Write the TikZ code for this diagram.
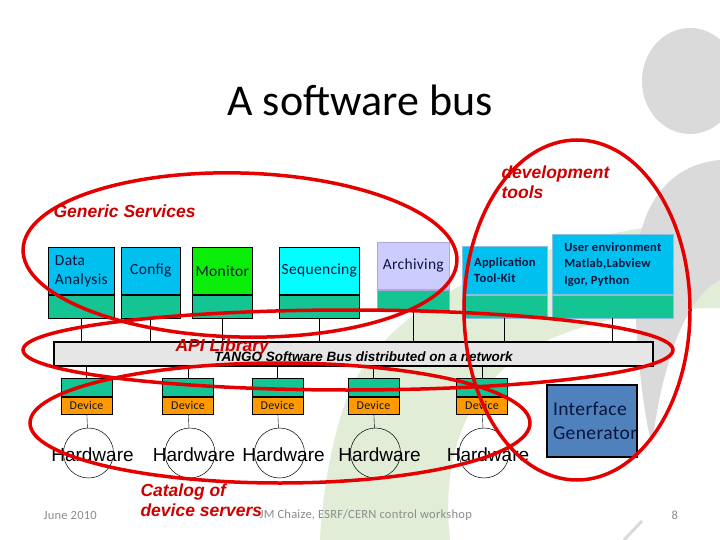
\documentclass[tikz,border=0pt]{standalone}
\usepackage{fontspec}
\setmainfont{Carlito}
\newfontfamily\boxfont[LetterSpace=2]{Carlito}
\newfontfamily\arialfont{Liberation Sans}
\usetikzlibrary{positioning}
\definecolor{skyb}{RGB}{0,192,240}
\definecolor{skyline}{RGB}{140,190,225}
\definecolor{teal2}{RGB}{20,196,146}
\definecolor{mongreen}{RGB}{10,238,10}
\definecolor{seqcyan}{RGB}{0,255,255}
\definecolor{lavender2}{RGB}{204,204,255}
\definecolor{lavline}{RGB}{170,170,220}
\definecolor{devorange}{RGB}{255,153,0}
\definecolor{busgray}{RGB}{230,230,230}
\definecolor{igblue}{RGB}{79,129,189}
\definecolor{penred}{RGB}{228,0,0}
\definecolor{notered}{RGB}{204,0,0}
\definecolor{boxtext}{RGB}{10,20,60}
\definecolor{bggray}{RGB}{218,218,218}
\definecolor{bggreen}{RGB}{226,237,216}
\definecolor{footgray}{RGB}{140,140,140}
\tikzset{
  svc/.style={draw=#1,line width=.7pt,inner sep=0pt,anchor=north west,text=boxtext,align=left},
  svcfont/.style={font=\boxfont\fontsize{15.5}{19}\selectfont},
  svcbold/.style={font=\boxfont\bfseries\fontsize{12.5}{16.5}\selectfont},
  dev/.style={draw,line width=.6pt,fill=teal2,minimum width=51,minimum height=18,inner sep=0pt,anchor=north},
  devlbl/.style={dev,fill=devorange,minimum height=17,text=boxtext,font=\boxfont\fontsize{12}{13}\selectfont},
  hw/.style={circle,draw,line width=.5pt,minimum size=50,inner sep=0pt},
  hwtext/.style={xshift=4pt,yshift=-2pt,font=\arialfont\fontsize{19}{22}\selectfont},
  note/.style={text=notered,anchor=west,align=left,font=\arialfont\bfseries\itshape\fontsize{17.5}{20}\selectfont},
  pen/.style={draw=penred,line width=3.5pt},
  foot/.style={text=footgray,anchor=west,font=\boxfont\fontsize{12.5}{14}\selectfont},
}
\begin{document}
\begin{tikzpicture}[x=1pt,y=-1pt]
  \useasboundingbox[fill=white](0,0)rectangle(720,540);
  % slide background
  \fill[bggreen](720,218).. controls (560,232) and (400,285) ..(350,390)
     .. controls (330,440) and (322,500) ..(320,540)--(450,540)
     .. controls (440,450) and (470,370) ..(560,335)
     .. controls (620,312) and (680,308) ..(720,308)--cycle;
  \fill[bggray](690,81)ellipse[x radius=48,y radius=53];
  \fill[bggray](720,160).. controls (660,165) and (630,220) ..(635,300)
     .. controls (638,370) and (645,420) ..(652,445)
     .. controls (660,380) and (680,300) ..(720,280)--cycle;
  \draw[bggray,line width=3pt](642,521)--(624,540);

  \node[font=\fontsize{44}{50}\selectfont] (title) at (360,100) {A software bus};

  \node[draw,line width=1.5pt,fill=busgray,minimum width=599,minimum height=24,inner sep=0pt,
        label={[xshift=10pt,yshift=-3pt,font=\arialfont\bfseries\itshape\fontsize{13.5}{15}\selectfont]center:TANGO Software Bus distributed on a network}]
        (bus) at (353.5,354) {};

  \foreach \n/\x/\y/\w/\h/\hb/\c/\d/\f/\t in {
      da/48/247/66/47/23/skyb/black/svcfont/{Data\\Analysis},
      cfg/121/247/59/47/23/skyb/black/svcfont/Config,
      mon/192/247/60/47/23/mongreen/black/svcfont/Monitor,
      seq/279/247/80/47/23/seqcyan/black/svcfont/Sequencing,
      arc/377/242/72/47/21/lavender2/lavline/svcfont/Archiving,
      atk/462/246/85/48/23/skyb/skyline/svcbold/{Application\\Tool-Kit},
      usr/552/234/121/60/23/skyb/skyline/svcbold/{User environment\\Matlab,Labview\\Igor, Python}}{
    \node[svc=\d,\f,fill=\c,minimum width=\w,minimum height=\h] (\n) at (\x,\y) {\t};
    \node[svc=\d,fill=teal2,minimum width=\w,minimum height=\hb,anchor=north] (\n-b) at (\n.south) {};
    \draw[line width=1pt] (\n-b.south) -- (\n-b.south |- bus.north);
  }

  \foreach \i/\x in {1/86.5,2/188,3/277.5,4/373.5,5/482}{
    \node[dev] (d\i) at (\x,378) {};
    \node[devlbl] (dl\i) at (d\i.south) {Device};
    \node[hw,label={[hwtext]center:Hardware}] (hw\i) at (\x+2,453) {};
    \draw (d\i |- bus.south) -- (d\i);
    \draw (dl\i) -- (hw\i);
  }

  \node[draw,line width=2pt,fill=igblue,minimum width=90,minimum height=72,anchor=north west,
        text=boxtext,align=left,text width=78,inner xsep=6pt,
        font=\boxfont\fontsize{19.5}{24}\selectfont] (ig) at (546,384) {Interface\\Generator};

  \node[foot] (date) at (40,515) {June 2010};
  \node[foot] (author) at (256,515) {JM Chaize, ESRF/CERN control workshop};
  \node[foot] (page) at (668,515) {8};

  % hand drawn marks
  \draw[pen](240,255)ellipse[x radius=217,y radius=82,rotate=-1.5];
  \draw[pen](348,350)ellipse[x radius=325,y radius=40];
  \draw[pen](280,423)ellipse[x radius=250,y radius=60];
  \draw[pen](577,310)ellipse[x radius=113,y radius=170];
  \node[note] (devtools) at (498,182) {development\\tools};
  \node[note] (generic) at (50,211) {Generic Services};
  \node[note] (api) at (172,347) {API Library};
  \node[note] (catalog) at (137,500) {Catalog of\\device servers};
\end{tikzpicture}
\end{document}
